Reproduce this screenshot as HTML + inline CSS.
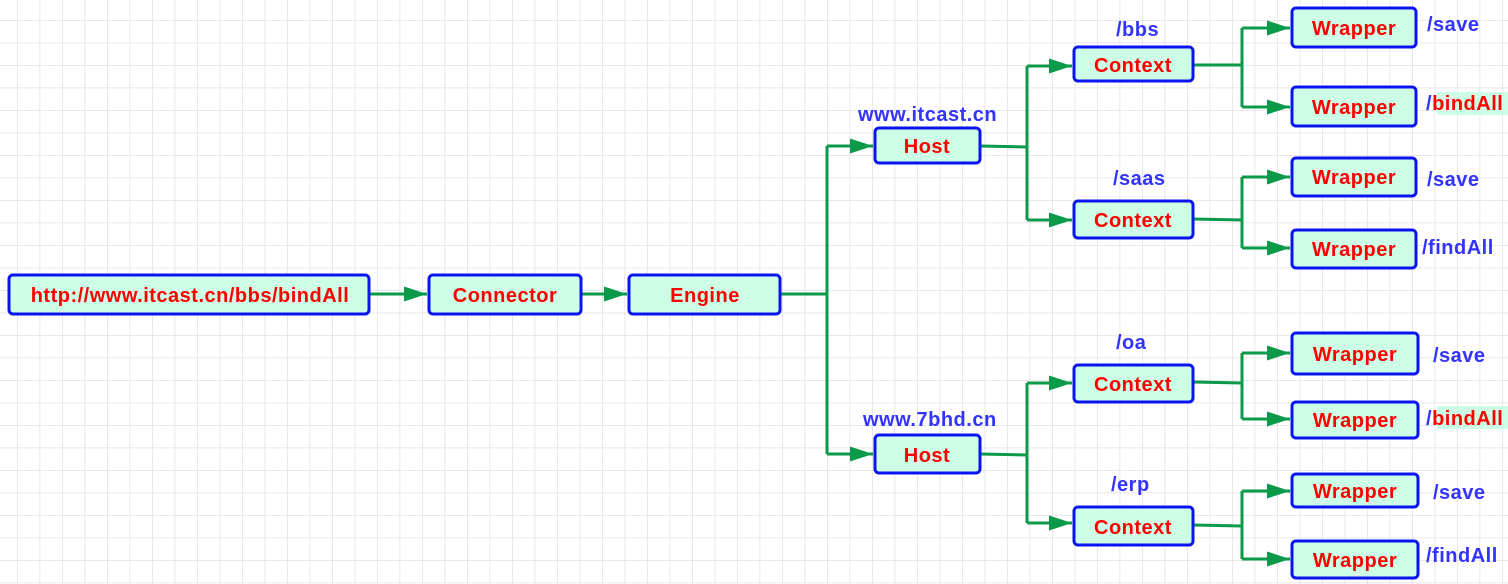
<!DOCTYPE html>
<html><head><meta charset="utf-8"><style>
html,body{margin:0;padding:0;background:#fff;}
svg{display:block;}
text{font-family:"Liberation Sans","DejaVu Sans",sans-serif;font-weight:bold;letter-spacing:0.5px;}
.b{fill:#ccffe6;stroke:#0a14f0;stroke-width:3;}
.t{fill:#ff0000;font-size:20px;text-anchor:middle;}
.l{fill:#3333ff;font-size:20px;}
.c{fill:none;stroke:#0a9a4a;stroke-width:3;}
</style></head><body>
<svg width="1508" height="584" viewBox="0 0 1508 584" xmlns="http://www.w3.org/2000/svg">
<defs>
<pattern id="g" x="17" y="20" width="22.5" height="22.5" patternUnits="userSpaceOnUse">
<path d="M0 0H22.5M0 0V22.5" stroke="#e0e0e0" stroke-width="1.5" fill="none"/>
</pattern>
<marker id="A" markerWidth="23" markerHeight="15" refX="23" refY="7.5" orient="auto" markerUnits="userSpaceOnUse">
<path d="M0 0L23 7.5L0 15Z" fill="#0a9a4a"/>
</marker>
</defs>
<rect width="1508" height="584" fill="url(#g)"/>

<path class="c" d="M370 294H427" marker-end="url(#A)"/>
<path class="c" d="M581 294H627" marker-end="url(#A)"/>
<path class="c" d="M780 294H827M827 146V454"/>
<path class="c" d="M827 146H873" marker-end="url(#A)"/>
<path class="c" d="M827 454H873" marker-end="url(#A)"/>
<path class="c" d="M980 146L1027 147M1027 66V220"/>
<path class="c" d="M1027 66H1072" marker-end="url(#A)"/>
<path class="c" d="M1027 220H1072" marker-end="url(#A)"/>
<path class="c" d="M980 454L1027 455M1027 383V523"/>
<path class="c" d="M1027 383H1072" marker-end="url(#A)"/>
<path class="c" d="M1027 523H1072" marker-end="url(#A)"/>
<path class="c" d="M1193 65H1242M1242 28V107"/>
<path class="c" d="M1242 28H1290" marker-end="url(#A)"/>
<path class="c" d="M1242 107H1290" marker-end="url(#A)"/>
<path class="c" d="M1193 219L1242 220M1242 177V248"/>
<path class="c" d="M1242 177H1290" marker-end="url(#A)"/>
<path class="c" d="M1242 248H1290" marker-end="url(#A)"/>
<path class="c" d="M1193 382L1242 383M1242 353V419"/>
<path class="c" d="M1242 353H1290" marker-end="url(#A)"/>
<path class="c" d="M1242 419H1290" marker-end="url(#A)"/>
<path class="c" d="M1193 525L1242 526M1242 491V559"/>
<path class="c" d="M1242 491H1290" marker-end="url(#A)"/>
<path class="c" d="M1242 559H1290" marker-end="url(#A)"/>

<rect class="b" x="9" y="275" width="360" height="39" rx="4"/><text class="t" x="190" y="302">http://www.itcast.cn/bbs/bindAll</text>
<rect class="b" x="429" y="275" width="152" height="39" rx="4"/><text class="t" x="505" y="302">Connector</text>
<rect class="b" x="629" y="275" width="151" height="39" rx="4"/><text class="t" x="705" y="302">Engine</text>

<rect class="b" x="875" y="128" width="105" height="35" rx="4"/><text class="t" x="927" y="153">Host</text>
<rect class="b" x="875" y="435" width="105" height="38" rx="4"/><text class="t" x="927" y="462">Host</text>
<text class="l" x="858" y="121">www.itcast.cn</text>
<text class="l" x="863" y="426">www.7bhd.cn</text>

<rect class="b" x="1074" y="47" width="119" height="34" rx="4"/><text class="t" x="1133" y="72">Context</text>
<rect class="b" x="1074" y="201" width="119" height="37" rx="4"/><text class="t" x="1133" y="227">Context</text>
<rect class="b" x="1074" y="365" width="119" height="37" rx="4"/><text class="t" x="1133" y="391">Context</text>
<rect class="b" x="1074" y="507" width="119" height="38" rx="4"/><text class="t" x="1133" y="534">Context</text>
<text class="l" x="1116" y="36">/bbs</text>
<text class="l" x="1113" y="185">/saas</text>
<text class="l" x="1116" y="349">/oa</text>
<text class="l" x="1111" y="491">/erp</text>

<rect class="b" x="1292" y="8" width="124" height="39" rx="4"/><text class="t" x="1354" y="35">Wrapper</text>
<rect class="b" x="1292" y="87" width="124" height="39" rx="4"/><text class="t" x="1354" y="114">Wrapper</text>
<rect class="b" x="1292" y="158" width="124" height="38" rx="4"/><text class="t" x="1354" y="184">Wrapper</text>
<rect class="b" x="1292" y="230" width="124" height="38" rx="4"/><text class="t" x="1354" y="256">Wrapper</text>
<rect class="b" x="1292" y="333" width="126" height="41" rx="4"/><text class="t" x="1355" y="361">Wrapper</text>
<rect class="b" x="1292" y="402" width="126" height="36" rx="4"/><text class="t" x="1355" y="427">Wrapper</text>
<rect class="b" x="1292" y="474" width="126" height="33" rx="4"/><text class="t" x="1355" y="498">Wrapper</text>
<rect class="b" x="1292" y="541" width="126" height="37" rx="4"/><text class="t" x="1355" y="567">Wrapper</text>

<text class="l" x="1427" y="31">/save</text>
<rect x="1437" y="92" width="71" height="23" fill="#ccffe6"/>
<text class="l" x="1426" y="110">/<tspan fill="#ff0000">bindAll</tspan></text>
<text class="l" x="1427" y="186">/save</text>
<text class="l" x="1422" y="254">/findAll</text>
<text class="l" x="1433" y="362">/save</text>
<rect x="1437" y="406" width="71" height="23" fill="#ccffe6"/>
<text class="l" x="1426" y="425">/<tspan fill="#ff0000">bindAll</tspan></text>
<text class="l" x="1433" y="499">/save</text>
<text class="l" x="1426" y="562">/findAll</text>
</svg>
</body></html>
